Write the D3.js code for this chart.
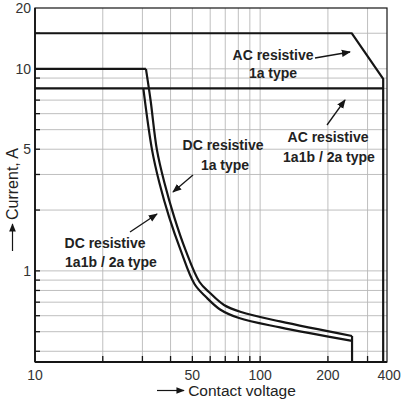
<!DOCTYPE html>
<html>
<head>
<meta charset="utf-8">
<script src="https://cdn.jsdelivr.net/npm/d3@7"></script>
<style>
  body { margin: 0; background: #fff; }
  svg { display: block; font-family: "Liberation Sans", Arial, sans-serif; }
</style>
</head>
<body>
<svg id="chart" width="402" height="403"></svg>
<script>
// axis ticks as printed on the sheet
const xTickValues = [10, 50, 100, 200, 374]
const xTickLabels = ["10", "50", "100", "200", "400"]
const yTickValues = [1, 4, 10, 20]
const yTickLabels = ["1", "5", "10", "20"]
const xGrid = [20, 30, 40, 50, 60, 70, 80, 90, 100, 200, 300]
const yGrid = [0.4, 0.5, 0.6, 0.7, 0.8, 0.9, 1, 2, 3, 4, 5, 6, 7, 8, 9, 10, 15]

// AC resistive 1a type
const ac1aV = [10, 255, 352, 352]
const ac1aA = [15, 15, 8.92, 0.354]
// AC resistive 1a1b / 2a type
const ac2aV = [10, 352]
const ac2aA = [8, 8]
// DC resistive 1a type
const dc1aFlatV = [10, 31.1]
const dc1aFlatA = [10, 10]
const dc1aV = [31.1, 32.6, 34.8, 37.6, 41.5, 46.6, 53.8, 59.9, 69.1, 82.2, 122.6, 256]
const dc1aA = [10, 7.01, 3.97, 2.72, 1.85, 1.27, 0.881, 0.777, 0.678, 0.626, 0.562, 0.476]
// DC resistive 1a1b / 2a type
const dc2aV = [30.3, 33.1, 35.7, 39.4, 44.3, 51.1, 57.5, 66.4, 80.6, 122.6, 256]
const dc2aA = [7.95, 3.97, 2.72, 1.85, 1.27, 0.861, 0.742, 0.644, 0.584, 0.525, 0.450]
const cutoffV = 256

const svg = d3.select("#chart")
const x = d3.scaleLog().domain([10, 366]).range([35, 387])
const y = d3.scaleLog().domain([0.354, 20]).range([362, 8])
const ink = "#151515"

// arrowhead
svg.append("defs").append("marker")
  .attr("id", "arr").attr("viewBox", "0 0 10 10").attr("refX", 9).attr("refY", 5)
  .attr("markerWidth", 7).attr("markerHeight", 7).attr("orient", "auto")
  .append("path").attr("d", "M0,1L10,5L0,9Z").attr("fill", ink)

// grid
svg.append("g").selectAll("line").data(xGrid).join("line")
  .attr("x1", d => x(d)).attr("x2", d => x(d))
  .attr("y1", y.range()[0]).attr("y2", y.range()[1])
  .attr("stroke", "#b8b8b8").attr("stroke-width", 0.9)
svg.append("g").selectAll("line").data(yGrid).join("line")
  .attr("y1", d => y(d)).attr("y2", d => y(d))
  .attr("x1", x.range()[0]).attr("x2", x.range()[1])
  .attr("stroke", "#b8b8b8").attr("stroke-width", 0.9)

// small ticks along the axes
svg.append("g").selectAll("line").data(xGrid).join("line")
  .attr("x1", d => x(d)).attr("x2", d => x(d))
  .attr("y1", 362).attr("y2", 356).attr("stroke", ink).attr("stroke-width", 1.3)
svg.append("g").selectAll("line").data(yGrid).join("line")
  .attr("y1", d => y(d)).attr("y2", d => y(d))
  .attr("x1", 35).attr("x2", 40).attr("stroke", ink).attr("stroke-width", 1.3)

// frame
svg.append("rect").attr("x", 35).attr("y", 8).attr("width", 352).attr("height", 354)
  .attr("fill", "none").attr("stroke", ink).attr("stroke-width", 1.2)
svg.append("line").attr("x1", 35).attr("x2", 35).attr("y1", 8).attr("y2", 362)
  .attr("stroke", ink).attr("stroke-width", 1.8)
svg.append("line").attr("x1", 35).attr("x2", 387).attr("y1", 362).attr("y2", 362)
  .attr("stroke", ink).attr("stroke-width", 2)

// tick labels
svg.append("g").selectAll("text").data(xTickValues).join("text")
  .attr("x", d => x(d)).attr("y", 380).attr("text-anchor", "middle")
  .attr("font-size", 14).attr("fill", "#333")
  .text((d, i) => xTickLabels[i])
svg.append("g").selectAll("text").data(yTickValues).join("text")
  .attr("x", 31).attr("y", d => y(d) + 5).attr("text-anchor", "end")
  .attr("font-size", 14).attr("fill", "#333")
  .text((d, i) => yTickLabels[i])

// axis titles
svg.append("text").attr("x", 242).attr("y", 396).attr("text-anchor", "middle")
  .attr("font-size", 15.5).attr("fill", "#222").text("Contact voltage")
svg.append("line").attr("x1", 157).attr("x2", 184).attr("y1", 390.5).attr("y2", 390.5)
  .attr("stroke", ink).attr("stroke-width", 1.2).attr("marker-end", "url(#arr)")
svg.append("text").attr("transform", "translate(18,184) rotate(-90)").attr("text-anchor", "middle")
  .attr("font-size", 16).attr("fill", "#222").text("Current, A")
svg.append("line").attr("x1", 12.5).attr("x2", 12.5).attr("y1", 251).attr("y2", 224)
  .attr("stroke", ink).attr("stroke-width", 1.2).attr("marker-end", "url(#arr)")

// curves
const straight = d3.line().x(d => x(d[0])).y(d => y(d[1]))
const smooth = d3.line().x(d => x(d[0])).y(d => y(d[1])).curve(d3.curveCatmullRom.alpha(0.5))
const zipVA = (v, a) => v.map((d, i) => [d, a[i]])

const lines = svg.append("g").attr("fill", "none").attr("stroke", ink)
  .attr("stroke-width", 2.2).attr("stroke-linejoin", "round")
lines.append("path").attr("d", straight(zipVA(ac1aV, ac1aA)))
lines.append("path").attr("d", straight(zipVA(ac2aV, ac2aA)))
lines.append("path").attr("d", straight(zipVA(dc1aFlatV, dc1aFlatA)))
lines.append("path").attr("d", smooth(zipVA(dc1aV, dc1aA)))
lines.append("path").attr("d", smooth(zipVA(dc2aV, dc2aA)))
lines.append("path").attr("d", straight([[cutoffV, dc1aA[dc1aA.length - 1]], [cutoffV, y.domain()[0]]]))

// annotations
const labels = [
  { t: "AC resistive", x: 273, y: 60 },
  { t: "1a type", x: 273, y: 78 },
  { t: "AC resistive", x: 328, y: 142 },
  { t: "1a1b / 2a type", x: 329, y: 162 },
  { t: "DC resistive", x: 223, y: 150 },
  { t: "1a type", x: 225, y: 170 },
  { t: "DC resistive", x: 105, y: 248 },
  { t: "1a1b / 2a type", x: 111, y: 267 }
]
svg.append("g").selectAll("text").data(labels).join("text")
  .attr("x", d => d.x).attr("y", d => d.y).attr("text-anchor", "middle")
  .attr("font-size", 14).attr("font-weight", "bold").attr("fill", "#222")
  .text(d => d.t)

const arrows = [
  [315, 58, 350, 52],
  [327, 125, 345, 100],
  [193, 175, 173, 192],
  [130, 232, 157, 214]
]
svg.append("g").selectAll("line").data(arrows).join("line")
  .attr("x1", d => d[0]).attr("y1", d => d[1]).attr("x2", d => d[2]).attr("y2", d => d[3])
  .attr("stroke", ink).attr("stroke-width", 1.3).attr("marker-end", "url(#arr)")
</script>
</body>
</html>
